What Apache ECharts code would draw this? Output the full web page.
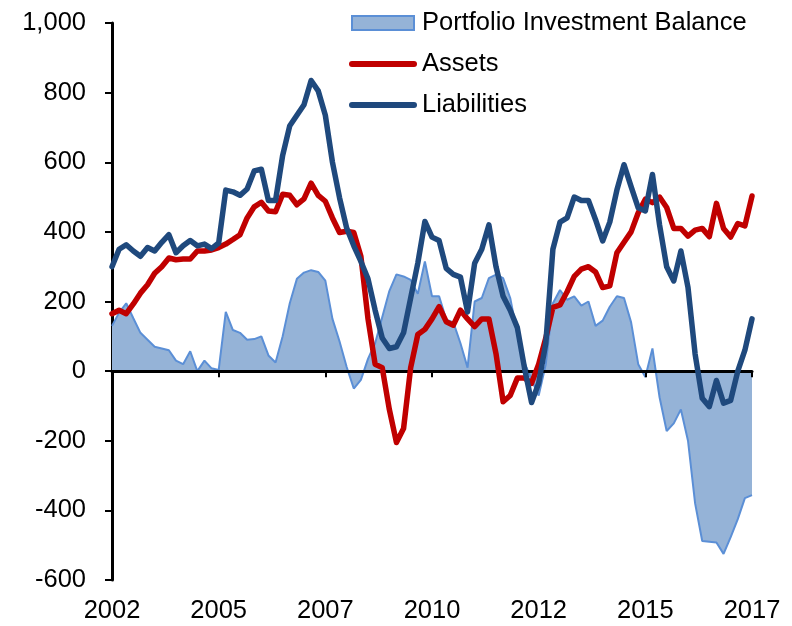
<!DOCTYPE html>
<html>
<head>
<meta charset="utf-8">
<script src="https://cdn.jsdelivr.net/npm/echarts@6/dist/echarts.min.js"></script>
<style>
  html, body { margin: 0; padding: 0; background: #fff; }
  #chart { width: 792px; height: 626px; }
</style>
</head>
<body>
<div id="chart"></div>
<script>
  // bi-monthly points, Jan 2002 .. Jan 2017
  var startYear = 2002;
  var xTickLabels = ["2002", "2005", "2007", "2010", "2012", "2015", "2017"];

  var balance = [
    130, 168, 195, 152, 110, 90, 70, 65, 60, 30,
    20, 57, 0, 30, 8, 3, 170, 118, 110, 90,
    92, 100, 45, 25, 100, 195, 265, 283, 290, 285,
    260, 150, 85, 12, -50, -25, 35, 80, 155, 230,
    278, 272, 262, 222, 315, 215, 215, 148, 140, 80,
    10, 200, 210, 267, 277, 267, 210, 105, 25, -25,
    -70, 20, 195, 233, 205, 215, 188, 200, 130, 145,
    185, 215, 210, 140, 20, -17, 65, -75, -172, -150,
    -110, -200, -380, -488, -490, -492, -525, -477, -425, -365,
    -356
  ];

  var assets = [
    165, 175, 165, 193, 224, 248, 281, 300, 325, 320,
    322, 322, 345, 345, 348, 355, 365, 378, 392, 440,
    472, 485, 460, 458, 508, 505, 478, 495, 540, 505,
    488, 440, 398, 402, 398, 330, 150, 20, 10, -110,
    -205, -165, 10, 105, 120, 150, 185, 142, 132, 175,
    150, 128, 150, 150, 50, -88, -70, -20, -20, -35,
    20, 95, 183, 190, 228, 272, 293, 300, 285, 240,
    245, 340, 370, 400, 455, 494, 484, 500, 470, 410,
    410, 388, 405, 410, 386, 482, 410, 385, 424, 417,
    503
  ];

  var liabilities = [
    300, 350, 363, 345, 330, 355, 345, 370, 392, 340,
    360, 375, 360, 365, 352, 368, 520, 515, 505, 523,
    575, 580, 490, 490, 620, 705, 735, 765, 835, 805,
    735, 600, 498, 411, 360, 315, 265, 175, 95, 65,
    70, 110, 210, 310, 430, 385, 375, 295, 278, 270,
    170, 310, 350, 420, 300, 215, 175, 125, 10, -90,
    -35, 80, 350, 428, 440, 500, 490, 490, 435, 374,
    428, 520, 593, 530, 469, 460, 565, 420, 300, 259,
    345, 240, 49, -78, -102, -27, -92, -84, 0, 60,
    150
  ];

  var MONTHS = ["Jan", "Mar", "May", "Jul", "Sep", "Nov"];
  var categories = balance.map(function (v, i) {
    return MONTHS[i % 6] + " " + (startYear + Math.floor(i / 6));
  });

  var FONT = "Liberation Sans, Arial, sans-serif";
  var RED = "#C00000", NAVY = "#1F497D", FILL = "#95B3D7", EDGE = "#5B8FD6";

  var chart = echarts.init(document.getElementById("chart"), null, { renderer: "canvas" });

  chart.setOption({
    backgroundColor: "#fff",
    animation: false,
    textStyle: { fontFamily: FONT },
    grid: { left: 112, right: 40, top: 23, bottom: 46 },
    legend: {
      orient: "vertical",
      left: 349,
      top: 9,
      padding: 0,
      itemWidth: 62,
      itemHeight: 14,
      itemGap: 13,
      textStyle: { fontSize: 25.5, color: "#000", fontFamily: FONT, lineHeight: 28, padding: [0, 0, 0, 3] },
      data: [
        { name: "Portfolio Investment Balance", icon: "rect",
          itemStyle: { color: FILL, borderColor: EDGE, borderWidth: 2 } },
        { name: "Assets", itemStyle: { opacity: 0 }, lineStyle: { width: 6, color: RED, cap: "round" } },
        { name: "Liabilities", itemStyle: { opacity: 0 }, lineStyle: { width: 6, color: NAVY, cap: "round" } }
      ]
    },
    xAxis: [
      {
        type: "category",
        data: categories,
        boundaryGap: false,
        z: 2,
        axisLine: { onZero: true, lineStyle: { color: "#000", width: 3 } },
        axisTick: { show: true, interval: 14, length: 6, lineStyle: { color: "#000", width: 2 } },
        axisLabel: { show: false },
        splitLine: { show: false }
      },
      {
        type: "category",
        data: categories,
        boundaryGap: false,
        position: "bottom",
        axisLine: { show: false, onZero: false },
        axisTick: { show: false },
        axisLabel: {
          interval: 14,
          margin: 18,
          fontSize: 25.5,
          color: "#000",
          fontFamily: FONT,
          formatter: function (v, idx) { return xTickLabels[idx / 15]; }
        },
        splitLine: { show: false }
      }
    ],
    yAxis: {
      type: "value",
      min: -600,
      max: 1000,
      interval: 200,
      axisLine: { show: true, onZero: false, lineStyle: { color: "#000", width: 3 } },
      axisTick: { show: true, length: 7, lineStyle: { color: "#000", width: 2 } },
      axisLabel: {
        margin: 26,
        fontSize: 25.5,
        color: "#000",
        fontFamily: FONT,
        formatter: function (v) { return v.toLocaleString("en-US"); }
      },
      splitLine: { show: false }
    },
    series: [
      {
        name: "Portfolio Investment Balance",
        type: "line",
        data: balance,
        z: 1,
        symbol: "none",
        lineStyle: { color: EDGE, width: 2 },
        itemStyle: { color: FILL },
        areaStyle: { color: FILL, opacity: 1 }
      },
      {
        name: "Assets",
        type: "line",
        data: assets,
        z: 3,
        symbol: "none",
        lineStyle: { color: RED, width: 5.5, cap: "round", join: "round" },
        itemStyle: { color: RED }
      },
      {
        name: "Liabilities",
        type: "line",
        data: liabilities,
        z: 4,
        symbol: "none",
        lineStyle: { color: NAVY, width: 5.5, cap: "round", join: "round" },
        itemStyle: { color: NAVY }
      }
    ]
  });
</script>
</body>
</html>
